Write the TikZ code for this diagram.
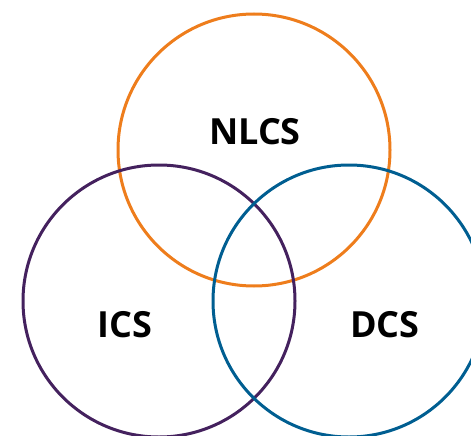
\documentclass[tikz,border=0pt]{standalone}
\usepackage{fontspec}
\usepackage{xcolor}
\setmainfont{Open Sans}
\definecolor{nlcsorange}{HTML}{EE7D1C}
\definecolor{icspurple}{HTML}{44215E}
\definecolor{dcsblue}{HTML}{005E91}

\begin{document}
\begin{tikzpicture}[
		x=1pt, y=-1pt,
		line width=3pt,
		set/.style={draw, circle, minimum size=272pt, inner sep=0pt},
		setname/.style={font=\fontsize{36}{36}\selectfont\bfseries, text=black}
		]
		\useasboundingbox (0,0) rectangle (471,436);
		\clip (0,0) rectangle (471,436);
		
		% the three sets
		\node[set, nlcsorange] (nlcs) at (254,150) {};
		\node[set, icspurple] (ics) at (159,301) {};
		\node[set, dcsblue] (dcs) at (349,301) {};
		
		% names inside the sets
		\node[setname] (nlcslabel) at (255,132) {NLCS};
		\node[setname] (icslabel) at (125,325) {ICS};
		\node[setname] (dcslabel) at (385,325) {DCS};
		
	\end{tikzpicture}
\end{document}
